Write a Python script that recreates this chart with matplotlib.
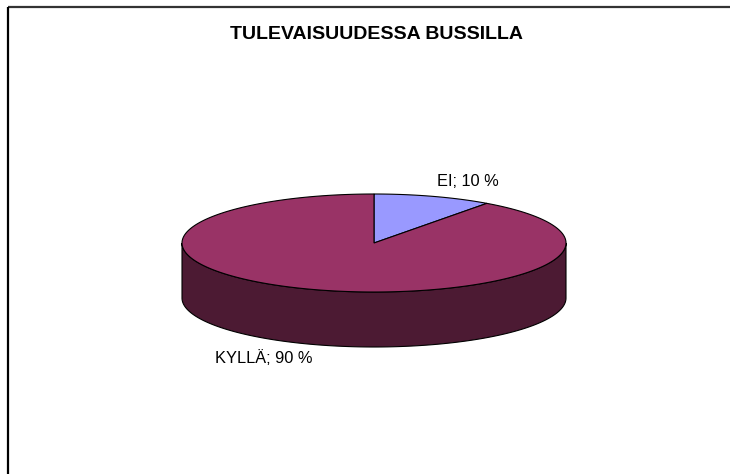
import numpy as np
import matplotlib
matplotlib.use("Agg")
import matplotlib.pyplot as plt
from matplotlib.patches import Polygon

# ---- data ----
categories = ["EI", "KYLLÄ"]
values = [10, 90]
title = "TULEVAISUUDESSA BUSSILLA"

top_colors = ["#9999FF", "#993366"]
side_colors = ["#4D4D80", "#4C1A33"]

W, H = 730, 474
fig = plt.figure(figsize=(W / 100, H / 100), dpi=100)
ax = fig.add_axes([0, 0, 1, 1])
ax.set_xlim(0, W)
ax.set_ylim(H, 0)
ax.axis("off")

cx, cy, rx, ry, depth = 374, 243, 192, 49, 55


def ell(t_deg, dy=0.0):
    t = np.radians(t_deg)
    return np.column_stack([cx + rx * np.cos(t), cy - ry * np.sin(t) + dy])


total = float(sum(values))
start = 90.0
slices = []
for v in values:
    t1 = start - v / total * 360.0
    slices.append((t1, start))
    start = t1

# sides (front half: angles 180..360)
for (t1, t2), sc in zip(slices, side_colors):
    for shift in (-720, -360, 0, 360):
        a = max(t1 + shift, 180)
        b = min(t2 + shift, 360)
        if b > a:
            ts = np.linspace(a, b, 200)
            topedge = ell(ts)
            botedge = ell(ts[::-1], depth)
            poly = np.vstack([topedge, botedge])
            ax.add_patch(Polygon(poly, closed=True, facecolor=sc,
                                 edgecolor="black", linewidth=0.8, zorder=1))

# top faces
for (t1, t2), tc in zip(slices, top_colors):
    ts = np.linspace(t1, t2, 300)
    pts = np.vstack([[cx, cy], ell(ts)])
    ax.add_patch(Polygon(pts, closed=True, facecolor=tc,
                         edgecolor="black", linewidth=0.8, zorder=2))

# labels
label_pos = [(437, 182, "left"), (215, 358, "left")]
for cat, v, (lx, ly, ha) in zip(categories, values, label_pos):
    ax.text(lx, ly, f"{cat}; {v} %", ha=ha, va="center",
            fontsize=11.8, family="Liberation Sans", color="black", zorder=3)

ax.text(376, 34, title, ha="center", va="center", fontsize=14,
        fontweight="bold", family="Liberation Sans", color="black")

# frame (top and left visible)
ax.plot([8, W], [7, 7], color="#333333", linewidth=1.6, solid_capstyle="butt")
ax.plot([8, 8], [7, H], color="black", linewidth=1.6, solid_capstyle="butt")

fig.savefig("out.png", dpi=100)
